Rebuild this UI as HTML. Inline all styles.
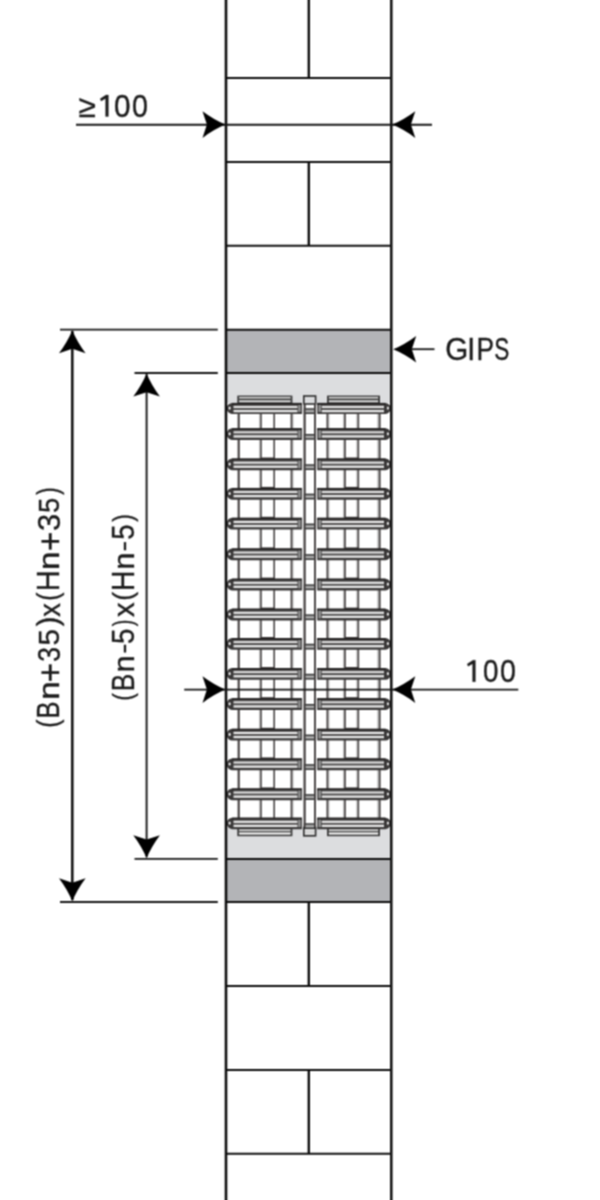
<!DOCTYPE html>
<html><head><meta charset="utf-8"><title>Grille</title>
<style>
html,body{margin:0;padding:0;background:#fff;width:600px;height:1200px;overflow:hidden;}
svg{display:block;font-family:"Liberation Sans", sans-serif;}
</style></head>
<body>
<svg width="600" height="1200" viewBox="0 0 600 1200">
<defs><filter id="soft" x="0" y="0" width="600" height="1200" filterUnits="userSpaceOnUse" color-interpolation-filters="sRGB"><feConvolveMatrix order="3" kernelMatrix="1 2 1 2 4 2 1 2 1" divisor="16" edgeMode="duplicate" preserveAlpha="true"/></filter><filter id="crisp" x="0" y="0" width="600" height="1200" filterUnits="userSpaceOnUse" color-interpolation-filters="sRGB"><feColorMatrix type="identity"/></filter></defs>
<g filter="url(#soft)">
<rect width="600" height="1200" fill="#fff"/>
<rect x="226" y="329.8" width="165.5" height="43.2" fill="#b3b4b7"/>
<rect x="226" y="859.0" width="165.5" height="43.0" fill="#b3b4b7"/>
<rect x="226" y="373.0" width="165.5" height="486.0" fill="#dcdddf"/>
<rect x="226" y="403" width="165.5" height="424.5" fill="#ffffff"/>
<line x1="238.7" y1="403" x2="238.7" y2="827.5" stroke="#474343" stroke-width="2.2"/>
<line x1="259.5" y1="403" x2="259.5" y2="827.5" stroke="#c8c8c8" stroke-width="1.2"/>
<line x1="261.0" y1="403" x2="261.0" y2="827.5" stroke="#474343" stroke-width="1.6"/>
<line x1="274.2" y1="403" x2="274.2" y2="827.5" stroke="#474343" stroke-width="1.6"/>
<line x1="293.0" y1="403" x2="293.0" y2="827.5" stroke="#c8c8c8" stroke-width="1.2"/>
<line x1="291.5" y1="403" x2="291.5" y2="827.5" stroke="#474343" stroke-width="1.8"/>
<line x1="304.6" y1="403" x2="304.6" y2="827.5" stroke="#474343" stroke-width="1.8"/>
<line x1="314.9" y1="403" x2="314.9" y2="827.5" stroke="#474343" stroke-width="1.8"/>
<line x1="328.9" y1="403" x2="328.9" y2="827.5" stroke="#c8c8c8" stroke-width="1.2"/>
<line x1="327.4" y1="403" x2="327.4" y2="827.5" stroke="#474343" stroke-width="1.8"/>
<line x1="343.5" y1="403" x2="343.5" y2="827.5" stroke="#c8c8c8" stroke-width="1.2"/>
<line x1="345.0" y1="403" x2="345.0" y2="827.5" stroke="#474343" stroke-width="1.7"/>
<line x1="356.8" y1="403" x2="356.8" y2="827.5" stroke="#c8c8c8" stroke-width="1.2"/>
<line x1="358.3" y1="403" x2="358.3" y2="827.5" stroke="#474343" stroke-width="1.7"/>
<line x1="377.70000000000005" y1="403" x2="377.70000000000005" y2="827.5" stroke="#c8c8c8" stroke-width="1.2"/>
<line x1="379.6" y1="403" x2="379.6" y2="827.5" stroke="#474343" stroke-width="2.0"/>
<line x1="261" y1="458.29999999999995" x2="274.1" y2="458.29999999999995" stroke="#3a3636" stroke-width="1.6"/>
<line x1="345" y1="458.29999999999995" x2="358.2" y2="458.29999999999995" stroke="#3a3636" stroke-width="1.6"/>
<line x1="261" y1="487.7" x2="274.1" y2="487.7" stroke="#3a3636" stroke-width="1.6"/>
<line x1="345" y1="487.7" x2="358.2" y2="487.7" stroke="#3a3636" stroke-width="1.6"/>
<line x1="261" y1="517.6" x2="274.1" y2="517.6" stroke="#3a3636" stroke-width="1.6"/>
<line x1="345" y1="517.6" x2="358.2" y2="517.6" stroke="#3a3636" stroke-width="1.6"/>
<line x1="261" y1="548.1999999999999" x2="274.1" y2="548.1999999999999" stroke="#3a3636" stroke-width="1.6"/>
<line x1="345" y1="548.1999999999999" x2="358.2" y2="548.1999999999999" stroke="#3a3636" stroke-width="1.6"/>
<line x1="261" y1="578.4" x2="274.1" y2="578.4" stroke="#3a3636" stroke-width="1.6"/>
<line x1="345" y1="578.4" x2="358.2" y2="578.4" stroke="#3a3636" stroke-width="1.6"/>
<line x1="261" y1="608.4" x2="274.1" y2="608.4" stroke="#3a3636" stroke-width="1.6"/>
<line x1="345" y1="608.4" x2="358.2" y2="608.4" stroke="#3a3636" stroke-width="1.6"/>
<line x1="261" y1="637.8" x2="274.1" y2="637.8" stroke="#3a3636" stroke-width="1.6"/>
<line x1="345" y1="637.8" x2="358.2" y2="637.8" stroke="#3a3636" stroke-width="1.6"/>
<line x1="261" y1="667.85" x2="274.1" y2="667.85" stroke="#3a3636" stroke-width="1.6"/>
<line x1="345" y1="667.85" x2="358.2" y2="667.85" stroke="#3a3636" stroke-width="1.6"/>
<line x1="261" y1="698.0" x2="274.1" y2="698.0" stroke="#3a3636" stroke-width="1.6"/>
<line x1="345" y1="698.0" x2="358.2" y2="698.0" stroke="#3a3636" stroke-width="1.6"/>
<line x1="261" y1="728.6" x2="274.1" y2="728.6" stroke="#3a3636" stroke-width="1.6"/>
<line x1="345" y1="728.6" x2="358.2" y2="728.6" stroke="#3a3636" stroke-width="1.6"/>
<line x1="261" y1="758.1999999999999" x2="274.1" y2="758.1999999999999" stroke="#3a3636" stroke-width="1.6"/>
<line x1="345" y1="758.1999999999999" x2="358.2" y2="758.1999999999999" stroke="#3a3636" stroke-width="1.6"/>
<line x1="261" y1="788.1999999999999" x2="274.1" y2="788.1999999999999" stroke="#3a3636" stroke-width="1.6"/>
<line x1="345" y1="788.1999999999999" x2="358.2" y2="788.1999999999999" stroke="#3a3636" stroke-width="1.6"/>
<rect x="237.3" y="395.6" width="55.099999999999966" height="8.399999999999977" fill="#3a3a3a"/><rect x="239.10000000000002" y="397.0" width="51.499999999999964" height="1.400000000000034" fill="#f6f6f6"/><rect x="239.10000000000002" y="398.40000000000003" width="51.499999999999964" height="2.1999999999999886" fill="#5c5c5c"/><rect x="239.10000000000002" y="400.6" width="51.499999999999964" height="1.6000000000000227" fill="#f2f2f2"/>
<rect x="237.3" y="827.8" width="55.099999999999966" height="8.400000000000091" fill="#3a3a3a"/><rect x="239.10000000000002" y="829.1999999999999" width="51.499999999999964" height="2.0" fill="#dedede"/><rect x="239.10000000000002" y="831.1999999999999" width="51.499999999999964" height="1.2000000000000455" fill="#4a4a4a"/><rect x="239.10000000000002" y="832.4" width="51.499999999999964" height="2.199999999999932" fill="#f4f4f4"/>
<rect x="327.0" y="395.6" width="53.0" height="8.399999999999977" fill="#3a3a3a"/><rect x="328.8" y="397.0" width="49.4" height="1.400000000000034" fill="#f6f6f6"/><rect x="328.8" y="398.40000000000003" width="49.4" height="2.1999999999999886" fill="#5c5c5c"/><rect x="328.8" y="400.6" width="49.4" height="1.6000000000000227" fill="#f2f2f2"/>
<rect x="327.0" y="827.8" width="53.0" height="8.400000000000091" fill="#3a3a3a"/><rect x="328.8" y="829.1999999999999" width="49.4" height="2.0" fill="#dedede"/><rect x="328.8" y="831.1999999999999" width="49.4" height="1.2000000000000455" fill="#4a4a4a"/><rect x="328.8" y="832.4" width="49.4" height="2.199999999999932" fill="#f4f4f4"/>
<rect x="303.8" y="396" width="11.8" height="8" fill="#dcdddf" stroke="#2c2c2c" stroke-width="1.6"/>
<rect x="303.8" y="827.5" width="11.8" height="8.3" fill="#d8d8d8" stroke="#2c2c2c" stroke-width="1.6"/>
<path d="M232.0,402.9 L302.0,402.9 L302.0,402.9 L302.0,413.9 L232.0,413.9 Q228.0,413.5 226.8,409.59999999999997 Q226.5,408.4 226.8,407.2 Q228.0,403.29999999999995 232.0,402.9 Z" fill="#3a3838"/><rect x="232.0" y="402.9" width="70.0" height="2.0" fill="#242222"/><rect x="233.5" y="404.9" width="64.0" height="1.2" fill="#6a6868"/><rect x="233.5" y="406.09999999999997" width="64.0" height="2.1" fill="#ececec"/><rect x="233.5" y="408.2" width="64.0" height="1.7" fill="#4a4848"/><rect x="233.5" y="409.9" width="64.0" height="2.4" fill="#e6e6e6"/><rect x="298.2" y="404.9" width="2.6" height="7.0" fill="#8e8e8e"/><ellipse cx="229.6" cy="408.09999999999997" rx="1.1" ry="1.6" fill="#f4f4f4"/>
<path d="M317.2,402.9 L385.5,402.9 Q389.5,403.29999999999995 390.7,407.2 Q391.0,408.4 390.7,409.59999999999997 Q389.5,413.5 385.5,413.9 L317.2,413.9 L317.2,413.9 L317.2,402.9 Z" fill="#3a3838"/><rect x="317.2" y="402.9" width="68.30000000000001" height="2.0" fill="#242222"/><rect x="321.7" y="404.9" width="62.30000000000001" height="1.2" fill="#6a6868"/><rect x="321.7" y="406.09999999999997" width="62.30000000000001" height="2.1" fill="#ececec"/><rect x="321.7" y="408.2" width="62.30000000000001" height="1.7" fill="#4a4848"/><rect x="321.7" y="409.9" width="62.30000000000001" height="2.4" fill="#e6e6e6"/><rect x="318.4" y="404.9" width="2.6" height="7.0" fill="#8e8e8e"/><ellipse cx="387.9" cy="408.09999999999997" rx="1.1" ry="1.6" fill="#e8e8e8"/>
<rect x="304.5" y="409.0" width="10.3" height="4.3" fill="#a8a8a8" stroke="#2a2a2a" stroke-width="1.4"/>
<path d="M232.0,428.225 L302.0,428.225 L302.0,428.225 L302.0,439.975 L232.0,439.975 Q228.0,439.57500000000005 226.8,435.3 Q226.5,434.1 226.8,432.90000000000003 Q228.0,428.625 232.0,428.225 Z" fill="#3a3838"/><rect x="232.0" y="428.225" width="70.0" height="2.0" fill="#242222"/><rect x="233.5" y="430.225" width="64.0" height="1.2" fill="#6a6868"/><rect x="233.5" y="431.425" width="64.0" height="2.1" fill="#ececec"/><rect x="233.5" y="433.52500000000003" width="64.0" height="1.7" fill="#4a4848"/><rect x="233.5" y="435.225" width="64.0" height="2.4" fill="#e6e6e6"/><rect x="298.2" y="430.225" width="2.6" height="7.75" fill="#8e8e8e"/><ellipse cx="229.6" cy="433.8" rx="1.1" ry="1.6" fill="#f4f4f4"/>
<path d="M317.2,428.225 L385.5,428.225 Q389.5,428.625 390.7,432.90000000000003 Q391.0,434.1 390.7,435.3 Q389.5,439.57500000000005 385.5,439.975 L317.2,439.975 L317.2,439.975 L317.2,428.225 Z" fill="#3a3838"/><rect x="317.2" y="428.225" width="68.30000000000001" height="2.0" fill="#242222"/><rect x="321.7" y="430.225" width="62.30000000000001" height="1.2" fill="#6a6868"/><rect x="321.7" y="431.425" width="62.30000000000001" height="2.1" fill="#ececec"/><rect x="321.7" y="433.52500000000003" width="62.30000000000001" height="1.7" fill="#4a4848"/><rect x="321.7" y="435.225" width="62.30000000000001" height="2.4" fill="#e6e6e6"/><rect x="318.4" y="430.225" width="2.6" height="7.75" fill="#8e8e8e"/><ellipse cx="387.9" cy="433.8" rx="1.1" ry="1.6" fill="#e8e8e8"/>
<rect x="304.5" y="434.70000000000005" width="10.3" height="4.3" fill="#a8a8a8" stroke="#2a2a2a" stroke-width="1.4"/>
<path d="M232.0,458.525 L302.0,458.525 L302.0,458.525 L302.0,470.275 L232.0,470.275 Q228.0,469.875 226.8,465.59999999999997 Q226.5,464.4 226.8,463.2 Q228.0,458.92499999999995 232.0,458.525 Z" fill="#3a3838"/><rect x="232.0" y="458.525" width="70.0" height="2.0" fill="#242222"/><rect x="233.5" y="460.525" width="64.0" height="1.2" fill="#6a6868"/><rect x="233.5" y="461.72499999999997" width="64.0" height="2.1" fill="#ececec"/><rect x="233.5" y="463.825" width="64.0" height="1.7" fill="#4a4848"/><rect x="233.5" y="465.525" width="64.0" height="2.4" fill="#e6e6e6"/><rect x="298.2" y="460.525" width="2.6" height="7.75" fill="#8e8e8e"/><ellipse cx="229.6" cy="464.09999999999997" rx="1.1" ry="1.6" fill="#f4f4f4"/>
<path d="M317.2,458.525 L385.5,458.525 Q389.5,458.92499999999995 390.7,463.2 Q391.0,464.4 390.7,465.59999999999997 Q389.5,469.875 385.5,470.275 L317.2,470.275 L317.2,470.275 L317.2,458.525 Z" fill="#3a3838"/><rect x="317.2" y="458.525" width="68.30000000000001" height="2.0" fill="#242222"/><rect x="321.7" y="460.525" width="62.30000000000001" height="1.2" fill="#6a6868"/><rect x="321.7" y="461.72499999999997" width="62.30000000000001" height="2.1" fill="#ececec"/><rect x="321.7" y="463.825" width="62.30000000000001" height="1.7" fill="#4a4848"/><rect x="321.7" y="465.525" width="62.30000000000001" height="2.4" fill="#e6e6e6"/><rect x="318.4" y="460.525" width="2.6" height="7.75" fill="#8e8e8e"/><ellipse cx="387.9" cy="464.09999999999997" rx="1.1" ry="1.6" fill="#e8e8e8"/>
<rect x="304.5" y="465.0" width="10.3" height="4.3" fill="#a8a8a8" stroke="#2a2a2a" stroke-width="1.4"/>
<path d="M232.0,487.925 L302.0,487.925 L302.0,487.925 L302.0,499.675 L232.0,499.675 Q228.0,499.27500000000003 226.8,495.0 Q226.5,493.8 226.8,492.6 Q228.0,488.325 232.0,487.925 Z" fill="#3a3838"/><rect x="232.0" y="487.925" width="70.0" height="2.0" fill="#242222"/><rect x="233.5" y="489.925" width="64.0" height="1.2" fill="#6a6868"/><rect x="233.5" y="491.125" width="64.0" height="2.1" fill="#ececec"/><rect x="233.5" y="493.225" width="64.0" height="1.7" fill="#4a4848"/><rect x="233.5" y="494.925" width="64.0" height="2.4" fill="#e6e6e6"/><rect x="298.2" y="489.925" width="2.6" height="7.75" fill="#8e8e8e"/><ellipse cx="229.6" cy="493.5" rx="1.1" ry="1.6" fill="#f4f4f4"/>
<path d="M317.2,487.925 L385.5,487.925 Q389.5,488.325 390.7,492.6 Q391.0,493.8 390.7,495.0 Q389.5,499.27500000000003 385.5,499.675 L317.2,499.675 L317.2,499.675 L317.2,487.925 Z" fill="#3a3838"/><rect x="317.2" y="487.925" width="68.30000000000001" height="2.0" fill="#242222"/><rect x="321.7" y="489.925" width="62.30000000000001" height="1.2" fill="#6a6868"/><rect x="321.7" y="491.125" width="62.30000000000001" height="2.1" fill="#ececec"/><rect x="321.7" y="493.225" width="62.30000000000001" height="1.7" fill="#4a4848"/><rect x="321.7" y="494.925" width="62.30000000000001" height="2.4" fill="#e6e6e6"/><rect x="318.4" y="489.925" width="2.6" height="7.75" fill="#8e8e8e"/><ellipse cx="387.9" cy="493.5" rx="1.1" ry="1.6" fill="#e8e8e8"/>
<rect x="304.5" y="494.40000000000003" width="10.3" height="4.3" fill="#a8a8a8" stroke="#2a2a2a" stroke-width="1.4"/>
<path d="M232.0,517.825 L302.0,517.825 L302.0,517.825 L302.0,529.575 L232.0,529.575 Q228.0,529.1750000000001 226.8,524.9000000000001 Q226.5,523.7 226.8,522.5 Q228.0,518.225 232.0,517.825 Z" fill="#3a3838"/><rect x="232.0" y="517.825" width="70.0" height="2.0" fill="#242222"/><rect x="233.5" y="519.825" width="64.0" height="1.2" fill="#6a6868"/><rect x="233.5" y="521.0250000000001" width="64.0" height="2.1" fill="#ececec"/><rect x="233.5" y="523.125" width="64.0" height="1.7" fill="#4a4848"/><rect x="233.5" y="524.825" width="64.0" height="2.4" fill="#e6e6e6"/><rect x="298.2" y="519.825" width="2.6" height="7.75" fill="#8e8e8e"/><ellipse cx="229.6" cy="523.4000000000001" rx="1.1" ry="1.6" fill="#f4f4f4"/>
<path d="M317.2,517.825 L385.5,517.825 Q389.5,518.225 390.7,522.5 Q391.0,523.7 390.7,524.9000000000001 Q389.5,529.1750000000001 385.5,529.575 L317.2,529.575 L317.2,529.575 L317.2,517.825 Z" fill="#3a3838"/><rect x="317.2" y="517.825" width="68.30000000000001" height="2.0" fill="#242222"/><rect x="321.7" y="519.825" width="62.30000000000001" height="1.2" fill="#6a6868"/><rect x="321.7" y="521.0250000000001" width="62.30000000000001" height="2.1" fill="#ececec"/><rect x="321.7" y="523.125" width="62.30000000000001" height="1.7" fill="#4a4848"/><rect x="321.7" y="524.825" width="62.30000000000001" height="2.4" fill="#e6e6e6"/><rect x="318.4" y="519.825" width="2.6" height="7.75" fill="#8e8e8e"/><ellipse cx="387.9" cy="523.4000000000001" rx="1.1" ry="1.6" fill="#e8e8e8"/>
<rect x="304.5" y="524.3000000000001" width="10.3" height="4.3" fill="#a8a8a8" stroke="#2a2a2a" stroke-width="1.4"/>
<path d="M232.0,548.425 L302.0,548.425 L302.0,548.425 L302.0,560.175 L232.0,560.175 Q228.0,559.775 226.8,555.5 Q226.5,554.3 226.8,553.0999999999999 Q228.0,548.8249999999999 232.0,548.425 Z" fill="#3a3838"/><rect x="232.0" y="548.425" width="70.0" height="2.0" fill="#242222"/><rect x="233.5" y="550.425" width="64.0" height="1.2" fill="#6a6868"/><rect x="233.5" y="551.625" width="64.0" height="2.1" fill="#ececec"/><rect x="233.5" y="553.7249999999999" width="64.0" height="1.7" fill="#4a4848"/><rect x="233.5" y="555.425" width="64.0" height="2.4" fill="#e6e6e6"/><rect x="298.2" y="550.425" width="2.6" height="7.75" fill="#8e8e8e"/><ellipse cx="229.6" cy="554.0" rx="1.1" ry="1.6" fill="#f4f4f4"/>
<path d="M317.2,548.425 L385.5,548.425 Q389.5,548.8249999999999 390.7,553.0999999999999 Q391.0,554.3 390.7,555.5 Q389.5,559.775 385.5,560.175 L317.2,560.175 L317.2,560.175 L317.2,548.425 Z" fill="#3a3838"/><rect x="317.2" y="548.425" width="68.30000000000001" height="2.0" fill="#242222"/><rect x="321.7" y="550.425" width="62.30000000000001" height="1.2" fill="#6a6868"/><rect x="321.7" y="551.625" width="62.30000000000001" height="2.1" fill="#ececec"/><rect x="321.7" y="553.7249999999999" width="62.30000000000001" height="1.7" fill="#4a4848"/><rect x="321.7" y="555.425" width="62.30000000000001" height="2.4" fill="#e6e6e6"/><rect x="318.4" y="550.425" width="2.6" height="7.75" fill="#8e8e8e"/><ellipse cx="387.9" cy="554.0" rx="1.1" ry="1.6" fill="#e8e8e8"/>
<rect x="304.5" y="554.9" width="10.3" height="4.3" fill="#a8a8a8" stroke="#2a2a2a" stroke-width="1.4"/>
<path d="M232.0,578.625 L302.0,578.625 L302.0,578.625 L302.0,590.375 L232.0,590.375 Q228.0,589.975 226.8,585.7 Q226.5,584.5 226.8,583.3 Q228.0,579.025 232.0,578.625 Z" fill="#3a3838"/><rect x="232.0" y="578.625" width="70.0" height="2.0" fill="#242222"/><rect x="233.5" y="580.625" width="64.0" height="1.2" fill="#6a6868"/><rect x="233.5" y="581.825" width="64.0" height="2.1" fill="#ececec"/><rect x="233.5" y="583.925" width="64.0" height="1.7" fill="#4a4848"/><rect x="233.5" y="585.625" width="64.0" height="2.4" fill="#e6e6e6"/><rect x="298.2" y="580.625" width="2.6" height="7.75" fill="#8e8e8e"/><ellipse cx="229.6" cy="584.2" rx="1.1" ry="1.6" fill="#f4f4f4"/>
<path d="M317.2,578.625 L385.5,578.625 Q389.5,579.025 390.7,583.3 Q391.0,584.5 390.7,585.7 Q389.5,589.975 385.5,590.375 L317.2,590.375 L317.2,590.375 L317.2,578.625 Z" fill="#3a3838"/><rect x="317.2" y="578.625" width="68.30000000000001" height="2.0" fill="#242222"/><rect x="321.7" y="580.625" width="62.30000000000001" height="1.2" fill="#6a6868"/><rect x="321.7" y="581.825" width="62.30000000000001" height="2.1" fill="#ececec"/><rect x="321.7" y="583.925" width="62.30000000000001" height="1.7" fill="#4a4848"/><rect x="321.7" y="585.625" width="62.30000000000001" height="2.4" fill="#e6e6e6"/><rect x="318.4" y="580.625" width="2.6" height="7.75" fill="#8e8e8e"/><ellipse cx="387.9" cy="584.2" rx="1.1" ry="1.6" fill="#e8e8e8"/>
<rect x="304.5" y="585.1" width="10.3" height="4.3" fill="#a8a8a8" stroke="#2a2a2a" stroke-width="1.4"/>
<path d="M232.0,608.625 L302.0,608.625 L302.0,608.625 L302.0,620.375 L232.0,620.375 Q228.0,619.975 226.8,615.7 Q226.5,614.5 226.8,613.3 Q228.0,609.025 232.0,608.625 Z" fill="#3a3838"/><rect x="232.0" y="608.625" width="70.0" height="2.0" fill="#242222"/><rect x="233.5" y="610.625" width="64.0" height="1.2" fill="#6a6868"/><rect x="233.5" y="611.825" width="64.0" height="2.1" fill="#ececec"/><rect x="233.5" y="613.925" width="64.0" height="1.7" fill="#4a4848"/><rect x="233.5" y="615.625" width="64.0" height="2.4" fill="#e6e6e6"/><rect x="298.2" y="610.625" width="2.6" height="7.75" fill="#8e8e8e"/><ellipse cx="229.6" cy="614.2" rx="1.1" ry="1.6" fill="#f4f4f4"/>
<path d="M317.2,608.625 L385.5,608.625 Q389.5,609.025 390.7,613.3 Q391.0,614.5 390.7,615.7 Q389.5,619.975 385.5,620.375 L317.2,620.375 L317.2,620.375 L317.2,608.625 Z" fill="#3a3838"/><rect x="317.2" y="608.625" width="68.30000000000001" height="2.0" fill="#242222"/><rect x="321.7" y="610.625" width="62.30000000000001" height="1.2" fill="#6a6868"/><rect x="321.7" y="611.825" width="62.30000000000001" height="2.1" fill="#ececec"/><rect x="321.7" y="613.925" width="62.30000000000001" height="1.7" fill="#4a4848"/><rect x="321.7" y="615.625" width="62.30000000000001" height="2.4" fill="#e6e6e6"/><rect x="318.4" y="610.625" width="2.6" height="7.75" fill="#8e8e8e"/><ellipse cx="387.9" cy="614.2" rx="1.1" ry="1.6" fill="#e8e8e8"/>
<rect x="304.5" y="615.1" width="10.3" height="4.3" fill="#a8a8a8" stroke="#2a2a2a" stroke-width="1.4"/>
<path d="M232.0,638.025 L302.0,638.025 L302.0,638.025 L302.0,649.775 L232.0,649.775 Q228.0,649.375 226.8,645.1 Q226.5,643.9 226.8,642.6999999999999 Q228.0,638.425 232.0,638.025 Z" fill="#3a3838"/><rect x="232.0" y="638.025" width="70.0" height="2.0" fill="#242222"/><rect x="233.5" y="640.025" width="64.0" height="1.2" fill="#6a6868"/><rect x="233.5" y="641.225" width="64.0" height="2.1" fill="#ececec"/><rect x="233.5" y="643.3249999999999" width="64.0" height="1.7" fill="#4a4848"/><rect x="233.5" y="645.025" width="64.0" height="2.4" fill="#e6e6e6"/><rect x="298.2" y="640.025" width="2.6" height="7.75" fill="#8e8e8e"/><ellipse cx="229.6" cy="643.6" rx="1.1" ry="1.6" fill="#f4f4f4"/>
<path d="M317.2,638.025 L385.5,638.025 Q389.5,638.425 390.7,642.6999999999999 Q391.0,643.9 390.7,645.1 Q389.5,649.375 385.5,649.775 L317.2,649.775 L317.2,649.775 L317.2,638.025 Z" fill="#3a3838"/><rect x="317.2" y="638.025" width="68.30000000000001" height="2.0" fill="#242222"/><rect x="321.7" y="640.025" width="62.30000000000001" height="1.2" fill="#6a6868"/><rect x="321.7" y="641.225" width="62.30000000000001" height="2.1" fill="#ececec"/><rect x="321.7" y="643.3249999999999" width="62.30000000000001" height="1.7" fill="#4a4848"/><rect x="321.7" y="645.025" width="62.30000000000001" height="2.4" fill="#e6e6e6"/><rect x="318.4" y="640.025" width="2.6" height="7.75" fill="#8e8e8e"/><ellipse cx="387.9" cy="643.6" rx="1.1" ry="1.6" fill="#e8e8e8"/>
<rect x="304.5" y="644.5" width="10.3" height="4.3" fill="#a8a8a8" stroke="#2a2a2a" stroke-width="1.4"/>
<path d="M232.0,668.075 L302.0,668.075 L302.0,668.075 L302.0,679.825 L232.0,679.825 Q228.0,679.4250000000001 226.8,675.1500000000001 Q226.5,673.95 226.8,672.75 Q228.0,668.475 232.0,668.075 Z" fill="#3a3838"/><rect x="232.0" y="668.075" width="70.0" height="2.0" fill="#242222"/><rect x="233.5" y="670.075" width="64.0" height="1.2" fill="#6a6868"/><rect x="233.5" y="671.2750000000001" width="64.0" height="2.1" fill="#ececec"/><rect x="233.5" y="673.375" width="64.0" height="1.7" fill="#4a4848"/><rect x="233.5" y="675.075" width="64.0" height="2.4" fill="#e6e6e6"/><rect x="298.2" y="670.075" width="2.6" height="7.75" fill="#8e8e8e"/><ellipse cx="229.6" cy="673.6500000000001" rx="1.1" ry="1.6" fill="#f4f4f4"/>
<path d="M317.2,668.075 L385.5,668.075 Q389.5,668.475 390.7,672.75 Q391.0,673.95 390.7,675.1500000000001 Q389.5,679.4250000000001 385.5,679.825 L317.2,679.825 L317.2,679.825 L317.2,668.075 Z" fill="#3a3838"/><rect x="317.2" y="668.075" width="68.30000000000001" height="2.0" fill="#242222"/><rect x="321.7" y="670.075" width="62.30000000000001" height="1.2" fill="#6a6868"/><rect x="321.7" y="671.2750000000001" width="62.30000000000001" height="2.1" fill="#ececec"/><rect x="321.7" y="673.375" width="62.30000000000001" height="1.7" fill="#4a4848"/><rect x="321.7" y="675.075" width="62.30000000000001" height="2.4" fill="#e6e6e6"/><rect x="318.4" y="670.075" width="2.6" height="7.75" fill="#8e8e8e"/><ellipse cx="387.9" cy="673.6500000000001" rx="1.1" ry="1.6" fill="#e8e8e8"/>
<rect x="304.5" y="674.5500000000001" width="10.3" height="4.3" fill="#a8a8a8" stroke="#2a2a2a" stroke-width="1.4"/>
<path d="M232.0,698.225 L302.0,698.225 L302.0,698.225 L302.0,709.975 L232.0,709.975 Q228.0,709.575 226.8,705.3000000000001 Q226.5,704.1 226.8,702.9 Q228.0,698.625 232.0,698.225 Z" fill="#3a3838"/><rect x="232.0" y="698.225" width="70.0" height="2.0" fill="#242222"/><rect x="233.5" y="700.225" width="64.0" height="1.2" fill="#6a6868"/><rect x="233.5" y="701.4250000000001" width="64.0" height="2.1" fill="#ececec"/><rect x="233.5" y="703.525" width="64.0" height="1.7" fill="#4a4848"/><rect x="233.5" y="705.225" width="64.0" height="2.4" fill="#e6e6e6"/><rect x="298.2" y="700.225" width="2.6" height="7.75" fill="#8e8e8e"/><ellipse cx="229.6" cy="703.8000000000001" rx="1.1" ry="1.6" fill="#f4f4f4"/>
<path d="M317.2,698.225 L385.5,698.225 Q389.5,698.625 390.7,702.9 Q391.0,704.1 390.7,705.3000000000001 Q389.5,709.575 385.5,709.975 L317.2,709.975 L317.2,709.975 L317.2,698.225 Z" fill="#3a3838"/><rect x="317.2" y="698.225" width="68.30000000000001" height="2.0" fill="#242222"/><rect x="321.7" y="700.225" width="62.30000000000001" height="1.2" fill="#6a6868"/><rect x="321.7" y="701.4250000000001" width="62.30000000000001" height="2.1" fill="#ececec"/><rect x="321.7" y="703.525" width="62.30000000000001" height="1.7" fill="#4a4848"/><rect x="321.7" y="705.225" width="62.30000000000001" height="2.4" fill="#e6e6e6"/><rect x="318.4" y="700.225" width="2.6" height="7.75" fill="#8e8e8e"/><ellipse cx="387.9" cy="703.8000000000001" rx="1.1" ry="1.6" fill="#e8e8e8"/>
<rect x="304.5" y="704.7" width="10.3" height="4.3" fill="#a8a8a8" stroke="#2a2a2a" stroke-width="1.4"/>
<path d="M232.0,728.825 L302.0,728.825 L302.0,728.825 L302.0,740.575 L232.0,740.575 Q228.0,740.1750000000001 226.8,735.9000000000001 Q226.5,734.7 226.8,733.5 Q228.0,729.225 232.0,728.825 Z" fill="#3a3838"/><rect x="232.0" y="728.825" width="70.0" height="2.0" fill="#242222"/><rect x="233.5" y="730.825" width="64.0" height="1.2" fill="#6a6868"/><rect x="233.5" y="732.0250000000001" width="64.0" height="2.1" fill="#ececec"/><rect x="233.5" y="734.125" width="64.0" height="1.7" fill="#4a4848"/><rect x="233.5" y="735.825" width="64.0" height="2.4" fill="#e6e6e6"/><rect x="298.2" y="730.825" width="2.6" height="7.75" fill="#8e8e8e"/><ellipse cx="229.6" cy="734.4000000000001" rx="1.1" ry="1.6" fill="#f4f4f4"/>
<path d="M317.2,728.825 L385.5,728.825 Q389.5,729.225 390.7,733.5 Q391.0,734.7 390.7,735.9000000000001 Q389.5,740.1750000000001 385.5,740.575 L317.2,740.575 L317.2,740.575 L317.2,728.825 Z" fill="#3a3838"/><rect x="317.2" y="728.825" width="68.30000000000001" height="2.0" fill="#242222"/><rect x="321.7" y="730.825" width="62.30000000000001" height="1.2" fill="#6a6868"/><rect x="321.7" y="732.0250000000001" width="62.30000000000001" height="2.1" fill="#ececec"/><rect x="321.7" y="734.125" width="62.30000000000001" height="1.7" fill="#4a4848"/><rect x="321.7" y="735.825" width="62.30000000000001" height="2.4" fill="#e6e6e6"/><rect x="318.4" y="730.825" width="2.6" height="7.75" fill="#8e8e8e"/><ellipse cx="387.9" cy="734.4000000000001" rx="1.1" ry="1.6" fill="#e8e8e8"/>
<rect x="304.5" y="735.3000000000001" width="10.3" height="4.3" fill="#a8a8a8" stroke="#2a2a2a" stroke-width="1.4"/>
<path d="M232.0,758.425 L302.0,758.425 L302.0,758.425 L302.0,770.175 L232.0,770.175 Q228.0,769.775 226.8,765.5 Q226.5,764.3 226.8,763.0999999999999 Q228.0,758.8249999999999 232.0,758.425 Z" fill="#3a3838"/><rect x="232.0" y="758.425" width="70.0" height="2.0" fill="#242222"/><rect x="233.5" y="760.425" width="64.0" height="1.2" fill="#6a6868"/><rect x="233.5" y="761.625" width="64.0" height="2.1" fill="#ececec"/><rect x="233.5" y="763.7249999999999" width="64.0" height="1.7" fill="#4a4848"/><rect x="233.5" y="765.425" width="64.0" height="2.4" fill="#e6e6e6"/><rect x="298.2" y="760.425" width="2.6" height="7.75" fill="#8e8e8e"/><ellipse cx="229.6" cy="764.0" rx="1.1" ry="1.6" fill="#f4f4f4"/>
<path d="M317.2,758.425 L385.5,758.425 Q389.5,758.8249999999999 390.7,763.0999999999999 Q391.0,764.3 390.7,765.5 Q389.5,769.775 385.5,770.175 L317.2,770.175 L317.2,770.175 L317.2,758.425 Z" fill="#3a3838"/><rect x="317.2" y="758.425" width="68.30000000000001" height="2.0" fill="#242222"/><rect x="321.7" y="760.425" width="62.30000000000001" height="1.2" fill="#6a6868"/><rect x="321.7" y="761.625" width="62.30000000000001" height="2.1" fill="#ececec"/><rect x="321.7" y="763.7249999999999" width="62.30000000000001" height="1.7" fill="#4a4848"/><rect x="321.7" y="765.425" width="62.30000000000001" height="2.4" fill="#e6e6e6"/><rect x="318.4" y="760.425" width="2.6" height="7.75" fill="#8e8e8e"/><ellipse cx="387.9" cy="764.0" rx="1.1" ry="1.6" fill="#e8e8e8"/>
<rect x="304.5" y="764.9" width="10.3" height="4.3" fill="#a8a8a8" stroke="#2a2a2a" stroke-width="1.4"/>
<path d="M232.0,788.425 L302.0,788.425 L302.0,788.425 L302.0,800.175 L232.0,800.175 Q228.0,799.775 226.8,795.5 Q226.5,794.3 226.8,793.0999999999999 Q228.0,788.8249999999999 232.0,788.425 Z" fill="#3a3838"/><rect x="232.0" y="788.425" width="70.0" height="2.0" fill="#242222"/><rect x="233.5" y="790.425" width="64.0" height="1.2" fill="#6a6868"/><rect x="233.5" y="791.625" width="64.0" height="2.1" fill="#ececec"/><rect x="233.5" y="793.7249999999999" width="64.0" height="1.7" fill="#4a4848"/><rect x="233.5" y="795.425" width="64.0" height="2.4" fill="#e6e6e6"/><rect x="298.2" y="790.425" width="2.6" height="7.75" fill="#8e8e8e"/><ellipse cx="229.6" cy="794.0" rx="1.1" ry="1.6" fill="#f4f4f4"/>
<path d="M317.2,788.425 L385.5,788.425 Q389.5,788.8249999999999 390.7,793.0999999999999 Q391.0,794.3 390.7,795.5 Q389.5,799.775 385.5,800.175 L317.2,800.175 L317.2,800.175 L317.2,788.425 Z" fill="#3a3838"/><rect x="317.2" y="788.425" width="68.30000000000001" height="2.0" fill="#242222"/><rect x="321.7" y="790.425" width="62.30000000000001" height="1.2" fill="#6a6868"/><rect x="321.7" y="791.625" width="62.30000000000001" height="2.1" fill="#ececec"/><rect x="321.7" y="793.7249999999999" width="62.30000000000001" height="1.7" fill="#4a4848"/><rect x="321.7" y="795.425" width="62.30000000000001" height="2.4" fill="#e6e6e6"/><rect x="318.4" y="790.425" width="2.6" height="7.75" fill="#8e8e8e"/><ellipse cx="387.9" cy="794.0" rx="1.1" ry="1.6" fill="#e8e8e8"/>
<rect x="304.5" y="794.9" width="10.3" height="4.3" fill="#a8a8a8" stroke="#2a2a2a" stroke-width="1.4"/>
<path d="M232.0,817.65 L302.0,817.65 L302.0,817.65 L302.0,829.15 L232.0,829.15 Q228.0,828.75 226.8,824.6 Q226.5,823.4 226.8,822.1999999999999 Q228.0,818.05 232.0,817.65 Z" fill="#3a3838"/><rect x="232.0" y="817.65" width="70.0" height="2.0" fill="#242222"/><rect x="233.5" y="819.65" width="64.0" height="1.2" fill="#6a6868"/><rect x="233.5" y="820.85" width="64.0" height="2.1" fill="#ececec"/><rect x="233.5" y="822.9499999999999" width="64.0" height="1.7" fill="#4a4848"/><rect x="233.5" y="824.65" width="64.0" height="2.4" fill="#e6e6e6"/><rect x="298.2" y="819.65" width="2.6" height="7.5" fill="#8e8e8e"/><ellipse cx="229.6" cy="823.1" rx="1.1" ry="1.6" fill="#f4f4f4"/>
<path d="M317.2,817.65 L385.5,817.65 Q389.5,818.05 390.7,822.1999999999999 Q391.0,823.4 390.7,824.6 Q389.5,828.75 385.5,829.15 L317.2,829.15 L317.2,829.15 L317.2,817.65 Z" fill="#3a3838"/><rect x="317.2" y="817.65" width="68.30000000000001" height="2.0" fill="#242222"/><rect x="321.7" y="819.65" width="62.30000000000001" height="1.2" fill="#6a6868"/><rect x="321.7" y="820.85" width="62.30000000000001" height="2.1" fill="#ececec"/><rect x="321.7" y="822.9499999999999" width="62.30000000000001" height="1.7" fill="#4a4848"/><rect x="321.7" y="824.65" width="62.30000000000001" height="2.4" fill="#e6e6e6"/><rect x="318.4" y="819.65" width="2.6" height="7.5" fill="#8e8e8e"/><ellipse cx="387.9" cy="823.1" rx="1.1" ry="1.6" fill="#e8e8e8"/>
<rect x="304.5" y="824.0" width="10.3" height="4.3" fill="#a8a8a8" stroke="#2a2a2a" stroke-width="1.4"/>
<line x1="304.6" y1="403" x2="304.6" y2="827.5" stroke="#474343" stroke-width="1.8"/>
<line x1="314.9" y1="403" x2="314.9" y2="827.5" stroke="#474343" stroke-width="1.8"/>
<line x1="226" y1="77.9" x2="391.5" y2="77.9" stroke="#0c0c0c" stroke-width="2.0"/>
<line x1="226" y1="161.9" x2="391.5" y2="161.9" stroke="#0c0c0c" stroke-width="2.0"/>
<line x1="226" y1="245.85" x2="391.5" y2="245.85" stroke="#0c0c0c" stroke-width="2.0"/>
<line x1="226" y1="329.8" x2="391.5" y2="329.8" stroke="#0c0c0c" stroke-width="2.0"/>
<line x1="226" y1="373.0" x2="391.5" y2="373.0" stroke="#0c0c0c" stroke-width="2.0"/>
<line x1="226" y1="859.0" x2="391.5" y2="859.0" stroke="#0c0c0c" stroke-width="2.0"/>
<line x1="226" y1="902.0" x2="391.5" y2="902.0" stroke="#0c0c0c" stroke-width="2.0"/>
<line x1="226" y1="986.1" x2="391.5" y2="986.1" stroke="#0c0c0c" stroke-width="2.0"/>
<line x1="226" y1="1070.1" x2="391.5" y2="1070.1" stroke="#0c0c0c" stroke-width="2.0"/>
<line x1="226" y1="1153.8" x2="391.5" y2="1153.8" stroke="#0c0c0c" stroke-width="2.0"/>
<line x1="308.8" y1="0" x2="308.8" y2="77.9" stroke="#0c0c0c" stroke-width="2.4"/>
<line x1="308.8" y1="161.9" x2="308.8" y2="245.85" stroke="#0c0c0c" stroke-width="2.4"/>
<line x1="308.8" y1="902.0" x2="308.8" y2="986.1" stroke="#0c0c0c" stroke-width="2.4"/>
<line x1="308.8" y1="1070.1" x2="308.8" y2="1153.8" stroke="#0c0c0c" stroke-width="2.4"/>
<line x1="226.0" y1="0" x2="226.0" y2="1200" stroke="#0c0c0c" stroke-width="2.6"/>
<line x1="391.3" y1="0" x2="391.3" y2="1200" stroke="#141414" stroke-width="2.6"/>
<line x1="76" y1="124.75" x2="432" y2="124.75" stroke="#141414" stroke-width="1.8"/>
<path d="M225.50,124.60 Q214.00,129.35 202.50,137.90 L206.90,124.60 L202.50,111.30 Q214.00,119.85 225.50,124.60 Z" fill="#000"/>
<path d="M392.30,124.60 Q403.80,119.85 415.30,111.30 L410.90,124.60 L415.30,137.90 Q403.80,129.35 392.30,124.60 Z" fill="#000"/>
<line x1="412" y1="349.2" x2="434.5" y2="349.2" stroke="#141414" stroke-width="1.8"/>
<path d="M393.20,349.20 Q404.70,344.45 416.20,335.90 L411.80,349.20 L416.20,362.50 Q404.70,353.95 393.20,349.20 Z" fill="#000"/>
<line x1="184.2" y1="689.6" x2="518.3" y2="689.6" stroke="#141414" stroke-width="1.8"/>
<path d="M225.50,689.60 Q214.00,694.35 202.50,702.90 L206.90,689.60 L202.50,676.30 Q214.00,684.85 225.50,689.60 Z" fill="#000"/>
<path d="M392.30,689.60 Q403.80,684.85 415.30,676.30 L410.90,689.60 L415.30,702.90 Q403.80,694.35 392.30,689.60 Z" fill="#000"/>
<line x1="60" y1="329.6" x2="217.8" y2="329.6" stroke="#141414" stroke-width="1.8"/>
<line x1="60" y1="902.0" x2="217.8" y2="902.0" stroke="#141414" stroke-width="1.8"/>
<line x1="72.3" y1="331" x2="72.3" y2="900" stroke="#141414" stroke-width="2.6"/>
<path d="M72.30,330.20 Q77.05,341.70 85.60,353.20 L72.30,348.80 L59.00,353.20 Q67.55,341.70 72.30,330.20 Z" fill="#000"/>
<path d="M72.30,901.30 Q67.55,889.80 59.00,878.30 L72.30,882.70 L85.60,878.30 Q77.05,889.80 72.30,901.30 Z" fill="#000"/>
<line x1="134.5" y1="373.0" x2="217.8" y2="373.0" stroke="#141414" stroke-width="1.8"/>
<line x1="134.5" y1="858.9" x2="217.8" y2="858.9" stroke="#141414" stroke-width="1.8"/>
<line x1="146.6" y1="374" x2="146.6" y2="857" stroke="#141414" stroke-width="1.9"/>
<path d="M146.60,373.60 Q151.35,385.10 159.90,396.60 L146.60,392.20 L133.30,396.60 Q141.85,385.10 146.60,373.60 Z" fill="#000"/>
<path d="M146.60,858.20 Q141.85,846.70 133.30,835.20 L146.60,839.60 L159.90,835.20 Q151.35,846.70 146.60,858.20 Z" fill="#000"/>
<path d="M108.40,95.00 L108.40,116.50 L105.60,116.50 L105.60,98.50 L101.10,101.00 L100.20,98.80 L106.00,95.00 Z" fill="#1a1a1a" stroke="#1a1a1a" stroke-width="0.3"/>
<path d="M475.40,660.20 L475.40,681.70 L472.60,681.70 L472.60,663.70 L468.10,666.20 L467.20,664.00 L473.00,660.20 Z" fill="#1a1a1a" stroke="#1a1a1a" stroke-width="0.3"/>
<text transform="translate(445.22,359.6) scale(0.924,1)" font-size="32" fill="#1a1a1a" stroke="#1a1a1a" stroke-width="0.35">G</text>
<text transform="translate(467.36,359.6) scale(0.898,1)" font-size="32" fill="#1a1a1a" stroke="#1a1a1a" stroke-width="0.35">I</text>
<text transform="translate(476.54,359.6) scale(0.822,1)" font-size="32" fill="#1a1a1a" stroke="#1a1a1a" stroke-width="0.35">P</text>
<text transform="translate(494.26,359.6) scale(0.707,1)" font-size="32" fill="#1a1a1a" stroke="#1a1a1a" stroke-width="0.35">S</text>
<text transform="translate(78.39,116.5) scale(1.022,1)" font-size="31" fill="#1a1a1a" stroke="#1a1a1a" stroke-width="0.35">≥</text>
<text transform="translate(114.04,116.5) scale(0.958,1)" font-size="31" fill="#1a1a1a" stroke="#1a1a1a" stroke-width="0.35">0</text>
<text transform="translate(132.08,116.5) scale(0.925,1)" font-size="31" fill="#1a1a1a" stroke="#1a1a1a" stroke-width="0.35">0</text>
<text transform="translate(482.91,682.3) scale(0.898,1)" font-size="31" fill="#1a1a1a" stroke="#1a1a1a" stroke-width="0.35">0</text>
<text transform="translate(500.08,682.3) scale(0.925,1)" font-size="31" fill="#1a1a1a" stroke="#1a1a1a" stroke-width="0.35">0</text>
<text transform="translate(57.71,727.72) rotate(-90) scale(0.767,0.927)" font-size="32" fill="#1a1a1a" stroke="#1a1a1a" stroke-width="0.35">(</text>
<text transform="translate(59.35,718.60) rotate(-90) scale(0.799,0.974)" font-size="32" fill="#1a1a1a" stroke="#1a1a1a" stroke-width="0.35">B</text>
<text transform="translate(59.35,699.69) rotate(-90) scale(1.037,0.926)" font-size="32" fill="#1a1a1a" stroke="#1a1a1a" stroke-width="0.35">n</text>
<text transform="translate(62.40,682.33) rotate(-90) scale(1.042,1.083)" font-size="32" fill="#1a1a1a" stroke="#1a1a1a" stroke-width="0.35">+</text>
<text transform="translate(59.59,661.70) rotate(-90) scale(0.824,0.971)" font-size="32" fill="#1a1a1a" stroke="#1a1a1a" stroke-width="0.35">3</text>
<text transform="translate(59.20,645.59) rotate(-90) scale(0.930,0.949)" font-size="32" fill="#1a1a1a" stroke="#1a1a1a" stroke-width="0.35">5</text>
<text transform="translate(57.71,626.17) rotate(-90) scale(0.896,0.927)" font-size="32" fill="#1a1a1a" stroke="#1a1a1a" stroke-width="0.35">)</text>
<text transform="translate(59.50,616.63) rotate(-90) scale(0.852,0.947)" font-size="32" fill="#1a1a1a" stroke="#1a1a1a" stroke-width="0.35">x</text>
<text transform="translate(57.71,600.72) rotate(-90) scale(0.767,0.927)" font-size="32" fill="#1a1a1a" stroke="#1a1a1a" stroke-width="0.35">(</text>
<text transform="translate(59.35,591.29) rotate(-90) scale(0.911,0.997)" font-size="32" fill="#1a1a1a" stroke="#1a1a1a" stroke-width="0.35">H</text>
<text transform="translate(59.35,569.99) rotate(-90) scale(1.037,0.926)" font-size="32" fill="#1a1a1a" stroke="#1a1a1a" stroke-width="0.35">n</text>
<text transform="translate(62.40,550.93) rotate(-90) scale(1.042,1.083)" font-size="32" fill="#1a1a1a" stroke="#1a1a1a" stroke-width="0.35">+</text>
<text transform="translate(59.59,530.97) rotate(-90) scale(0.963,0.971)" font-size="32" fill="#1a1a1a" stroke="#1a1a1a" stroke-width="0.35">3</text>
<text transform="translate(59.20,513.10) rotate(-90) scale(0.857,0.949)" font-size="32" fill="#1a1a1a" stroke="#1a1a1a" stroke-width="0.35">5</text>
<text transform="translate(57.71,494.73) rotate(-90) scale(0.696,0.927)" font-size="32" fill="#1a1a1a" stroke="#1a1a1a" stroke-width="0.35">)</text>
<text transform="translate(132.29,700.73) rotate(-90) scale(0.719,0.892)" font-size="32" fill="#1a1a1a" stroke="#1a1a1a" stroke-width="0.35">(</text>
<text transform="translate(134.25,691.36) rotate(-90) scale(0.822,0.997)" font-size="32" fill="#1a1a1a" stroke="#1a1a1a" stroke-width="0.35">B</text>
<text transform="translate(134.25,672.43) rotate(-90) scale(0.963,0.932)" font-size="32" fill="#1a1a1a" stroke="#1a1a1a" stroke-width="0.35">n</text>
<text transform="translate(132.37,653.85) rotate(-90) scale(0.957,0.821)" font-size="32" fill="#1a1a1a" stroke="#1a1a1a" stroke-width="0.35">-</text>
<text transform="translate(134.09,644.01) rotate(-90) scale(0.870,0.980)" font-size="32" fill="#1a1a1a" stroke="#1a1a1a" stroke-width="0.35">5</text>
<text transform="translate(132.29,626.32) rotate(-90) scale(0.613,0.892)" font-size="32" fill="#1a1a1a" stroke="#1a1a1a" stroke-width="0.35">)</text>
<text transform="translate(134.25,616.95) rotate(-90) scale(0.917,0.950)" font-size="32" fill="#1a1a1a" stroke="#1a1a1a" stroke-width="0.35">x</text>
<text transform="translate(132.29,600.64) rotate(-90) scale(0.825,0.892)" font-size="32" fill="#1a1a1a" stroke="#1a1a1a" stroke-width="0.35">(</text>
<text transform="translate(134.25,590.92) rotate(-90) scale(0.883,0.997)" font-size="32" fill="#1a1a1a" stroke="#1a1a1a" stroke-width="0.35">H</text>
<text transform="translate(134.25,569.65) rotate(-90) scale(0.971,0.932)" font-size="32" fill="#1a1a1a" stroke="#1a1a1a" stroke-width="0.35">n</text>
<text transform="translate(132.37,551.52) rotate(-90) scale(1.008,0.821)" font-size="32" fill="#1a1a1a" stroke="#1a1a1a" stroke-width="0.35">-</text>
<text transform="translate(134.09,539.81) rotate(-90) scale(0.864,0.980)" font-size="32" fill="#1a1a1a" stroke="#1a1a1a" stroke-width="0.35">5</text>
<text transform="translate(132.29,521.74) rotate(-90) scale(0.719,0.892)" font-size="32" fill="#1a1a1a" stroke="#1a1a1a" stroke-width="0.35">)</text>
</g>
</svg>
</body></html>
